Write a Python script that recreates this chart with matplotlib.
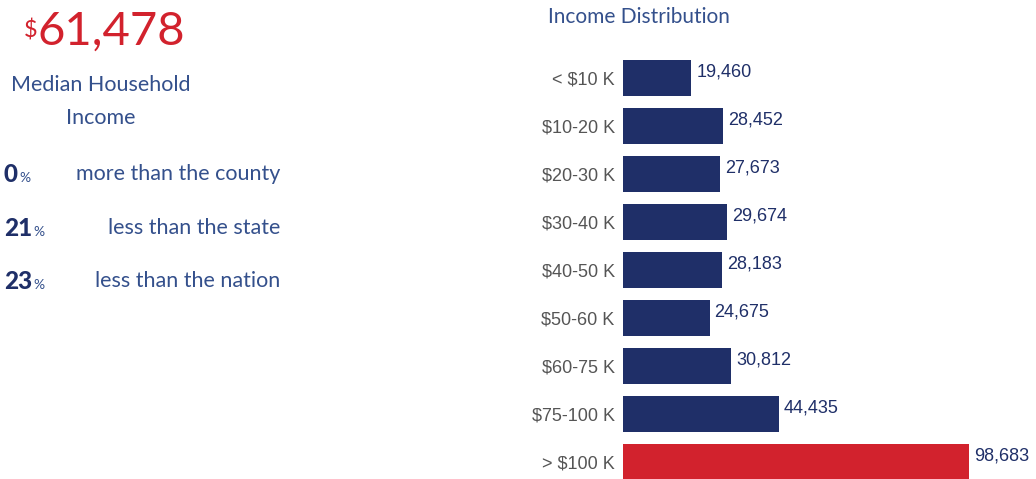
import matplotlib
matplotlib.use("Agg")
import matplotlib.pyplot as plt

categories = ["< $10 K", "$10-20 K", "$20-30 K", "$30-40 K", "$40-50 K",
              "$50-60 K", "$60-75 K", "$75-100 K", "> $100 K"]
values = [19460, 28452, 27673, 29674, 28183, 24675, 30812, 44435, 98683]
value_labels = ["19,460", "28,452", "27,673", "29,674", "28,183",
                "24,675", "30,812", "44,435", "98,683"]
median_income = "61,478"
compare_pct = ["0", "21", "23"]
compare_text = ["more than the county", "less than the state", "less than the nation"]

NAVY = "#1f2f68"
RED = "#d2222d"
TXT = "#34508c"
GRAY = "#555555"

W, H = 1036, 479
fig = plt.figure(figsize=(W / 100, H / 100), dpi=100)
fig.patch.set_facecolor("white")

def fx(px):
    return px / W

def fy(py):
    return 1 - py / H

# Bar axes
ax_top_px, ax_bot_px = 54, 479
ax = fig.add_axes([fx(623), fy(ax_bot_px), fx(W - 623), (ax_bot_px - ax_top_px) / H])
row0, step = 78, 48
ax.set_ylim((ax_bot_px - row0) / step, (ax_top_px - row0) / step)
scale = (969 - 623) / 98683.0
ax.set_xlim(0, (W - 623) / scale)
colors = [NAVY] * (len(values) - 1) + [RED]
ypos = list(range(len(values)))
ax.barh(ypos, values, height=0.76, color=colors, clip_on=False)
for y, v, lab in zip(ypos, values, value_labels):
    ax.text(v + 5 / scale, y - 0.12, lab, ha="left", va="center",
            fontsize=13, color=NAVY, family="Liberation Sans")
ax.set_yticks(ypos)
ax.set_yticklabels(categories, fontsize=13, color=GRAY, family="Liberation Sans")
ax.tick_params(axis="y", length=0, pad=6)
ax.set_xticks([])
for s in ax.spines.values():
    s.set_visible(False)

font_main = "Lato"
fig.text(fx(548), fy(17), "Income Distribution", ha="left", va="center",
         fontsize=15, color=TXT, family=font_main)

# Left panel
fig.text(fx(24), fy(37), "$", ha="left", va="baseline", fontsize=17, color=RED, family=font_main)
fig.text(fx(37), fy(45), median_income, ha="left", va="baseline", fontsize=34, color=RED, family=font_main)
fig.text(fx(101), fy(85), "Median Household", ha="center", va="center", fontsize=15.5, color=TXT, family=font_main)
fig.text(fx(101), fy(118), "Income", ha="center", va="center", fontsize=15.5, color=TXT, family=font_main)

renderer = fig.canvas.get_renderer()
rows_y = [182, 236, 289]
for py, p, t in zip(rows_y, compare_pct, compare_text):
    num = fig.text(fx(4), fy(py), p, ha="left", va="baseline", fontsize=17.5, color=NAVY,
                   family=font_main, fontweight="black")
    bb = num.get_window_extent(renderer)
    fig.text(bb.x1 / W + fx(1), fy(py), "%", ha="left", va="baseline", fontsize=10,
             color=TXT, family=font_main)
    fig.text(fx(280), fy(py - 2), t, ha="right", va="baseline", fontsize=15.5, color=TXT, family=font_main)

fig.savefig("out.png", dpi=100, facecolor="white")
